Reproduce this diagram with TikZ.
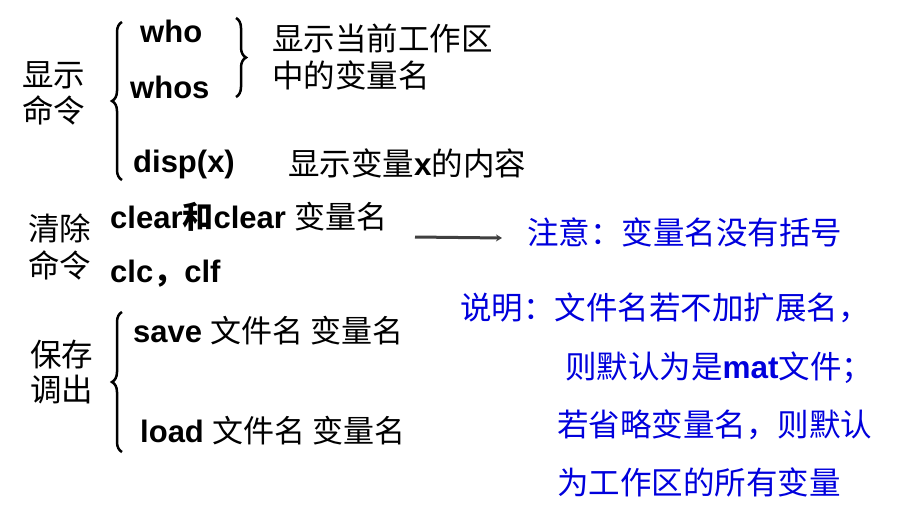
\documentclass[tikz,border=0pt]{standalone}
\usepackage{fontspec}
\setmainfont{Liberation Sans}
\newfontfamily\cjk{Noto Sans CJK SC}
\usetikzlibrary{decorations.pathreplacing,arrows.meta}
\begin{document}
\begin{tikzpicture}[x=1pt,y=-1pt,
  t/.style={anchor=west,inner sep=0pt,font=\fontsize{31.5}{34}\selectfont\cjk},
  en/.style={anchor=west,inner sep=0pt,font=\fontsize{31}{34}\selectfont\bfseries},
  bl/.style={t,text={rgb,255:red,0;green,0;blue,220}},
  br/.style={draw,line width=2.5pt,decorate,decoration={brace,amplitude=10pt}}]
\useasboundingbox[fill=white] (0,0) rectangle (902,517);
\node[t] (s1) at (22,75) {显示};
\node[t] (s2) at (22,110) {命令};
\draw[br] (122,180) -- (122,22);
\node[en] (who) at (140,31) {who};
\node[en] (whos) at (130,87) {whos};
\draw[br] (236,18) -- (236,97);
\node[t] (d1) at (272,38) {显示当前工作区};
\node[t] (d2) at (272,75) {中的变量名};
\node[en] (disp) at (133,164) {disp(x)};
\node[t] (d3) at (288,163) {显示变量{\bfseries\fontspec{Liberation Sans}x}的内容};
\node[t] (c1) at (28,228) {清除};
\node[t] (c2) at (28,265) {命令};
\node[en] (clear) at (110,217) {clear{\cjk 和}clear {\mdseries\cjk 变量名}};
\node[en] (clc) at (110,274) {clc{\cjk ，}clf};
\coordinate (a1) at (415,237);
\coordinate (a2) at (502,238);
\draw[line width=3pt,draw=black!75,-{Stealth[length=6pt,width=7pt]}] (a1) -- (a2);
\node[bl] (n1) at (527,232) {注意：变量名没有括号};
\node[t] (p1) at (30,355) {保存};
\node[t] (p2) at (30,390) {调出};
\draw[br] (122,452) -- (122,312);
\node[en] (save) at (133,331) {save {\mdseries\cjk 文件名 变量名}};
\node[en] (load) at (140,431) {load {\mdseries\cjk 文件名 变量名}};
\node[bl] (e1) at (460,308) {说明：文件名若不加扩展名，};
\node[bl] (e2) at (565,368) {则默认为是{\bfseries\fontspec{Liberation Sans}mat}文件；};
\node[bl] (e3) at (557,425) {若省略变量名，则默认};
\node[bl] (e4) at (557,482) {为工作区的所有变量};
\end{tikzpicture}
\end{document}
